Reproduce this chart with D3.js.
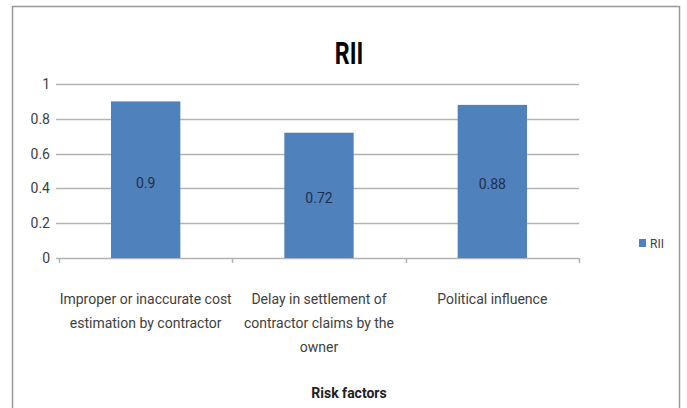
<!DOCTYPE html>
<html>
<head>
<script src="https://d3js.org/d3.v7.min.js"></script>
<style>
  body { margin: 0; background: #fff; }
  text { font-family: Roboto, "Liberation Sans", sans-serif; fill: #404040; }
</style>
</head>
<body>
<svg width="687" height="408"></svg>
<script>
var categories = [
  ["Improper or inaccurate cost", "estimation by contractor"],
  ["Delay in settlement of", "contractor claims by the", "owner"],
  ["Political influence"]
];
var values = [0.9, 0.72, 0.88];
var yTicks = [0, 0.2, 0.4, 0.6, 0.8, 1];
var seriesName = "RII";

var svg = d3.select("svg");
var plot = {left: 59, right: 579, top: 84, bottom: 258};

// chart frame
svg.append("rect")
  .attr("x", 12.5).attr("y", 6.5)
  .attr("width", 667).attr("height", 410)
  .attr("fill", "#fff").attr("stroke", "#999").attr("stroke-width", 1.5);

var x = d3.scaleBand()
  .domain(d3.range(categories.length))
  .range([plot.left, plot.right])
  .paddingInner(0.6).paddingOuter(0.3);
var xCat = d3.scaleBand()
  .domain(d3.range(categories.length))
  .range([plot.left, plot.right]);
var y = d3.scaleLinear().domain([0, 1]).range([plot.bottom, plot.top]);

// gridlines
svg.append("g").selectAll("line")
  .data(yTicks).enter().append("line")
  .attr("x1", plot.left - 3).attr("x2", plot.right)
  .attr("y1", function(d) { return Math.round(y(d)) + 0.5; })
  .attr("y2", function(d) { return Math.round(y(d)) + 0.5; })
  .attr("stroke", "#b3b3b3").attr("stroke-width", 1.5);

// y labels
svg.append("g").selectAll("text")
  .data(yTicks).enter().append("text")
  .attr("x", 50).attr("y", function(d) { return y(d) + 5; })
  .attr("text-anchor", "end").attr("font-size", 14)
  .text(function(d) { return d; });

// category ticks
svg.append("g").selectAll("line")
  .data(d3.range(categories.length + 1)).enter().append("line")
  .attr("x1", function(d) { return Math.round(plot.left + d * xCat.bandwidth()) + 0.5; })
  .attr("x2", function(d) { return Math.round(plot.left + d * xCat.bandwidth()) + 0.5; })
  .attr("y1", plot.bottom).attr("y2", plot.bottom + 5)
  .attr("stroke", "#b3b3b3").attr("stroke-width", 1.5);

// bars
svg.append("g").selectAll("rect")
  .data(values).enter().append("rect")
  .attr("x", function(d, i) { return x(i); })
  .attr("width", x.bandwidth())
  .attr("y", function(d) { return y(d); })
  .attr("height", function(d) { return plot.bottom - y(d); })
  .attr("fill", "#4f81bd");

// data labels
svg.append("g").selectAll("text")
  .data(values).enter().append("text")
  .attr("x", function(d, i) { return x(i) + x.bandwidth() / 2; })
  .attr("y", function(d) { return (y(d) + plot.bottom) / 2 + 8; })
  .attr("text-anchor", "middle").attr("font-size", 14)
  .style("fill", "#1f2f4a")
  .text(function(d) { return d; });

// category labels
var cl = svg.append("g").selectAll("text")
  .data(categories).enter().append("text")
  .attr("text-anchor", "middle").attr("font-size", 14);
cl.selectAll("tspan")
  .data(function(d, i) { return d.map(function(s) { return {s: s, i: i}; }); })
  .enter().append("tspan")
  .attr("x", function(d) { return xCat(d.i) + xCat.bandwidth() / 2; })
  .attr("y", function(d, j) { return 304 + j * 24; })
  .text(function(d) { return d.s; });

// title
svg.append("text")
  .attr("transform", "translate(349,64) scale(0.75,1)")
  .attr("text-anchor", "middle").attr("font-size", 31).attr("font-weight", "bold")
  .style("fill", "#000")
  .text(seriesName);

// axis title
svg.append("text")
  .attr("x", 349).attr("y", 398)
  .attr("text-anchor", "middle").attr("font-size", 14).attr("font-weight", "bold")
  .style("fill", "#222")
  .text("Risk factors");

// legend
svg.append("rect")
  .attr("x", 639).attr("y", 239).attr("width", 7).attr("height", 8)
  .attr("fill", "#4f81bd");
svg.append("text")
  .attr("x", 650).attr("y", 248).attr("font-size", 12)
  .text(seriesName);
</script>
</body>
</html>
